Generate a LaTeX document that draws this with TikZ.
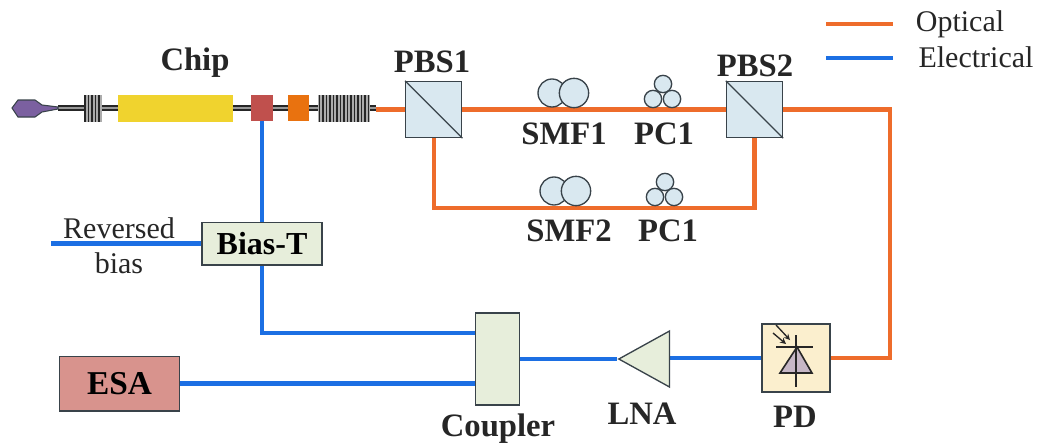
\documentclass[tikz,border=0pt]{standalone}
\usepackage{fontspec}
\setmainfont{Liberation Serif}
\usetikzlibrary{positioning,shapes.geometric,backgrounds}
\definecolor{optline}{HTML}{EE6C2B}
\definecolor{elecline}{HTML}{1C6FE3}
\definecolor{edgegray}{HTML}{39434A}
\definecolor{pbsfill}{HTML}{D9E8F0}
\definecolor{greenfill}{HTML}{E7EEDB}
\definecolor{esafill}{HTML}{D8938D}
\definecolor{pdfill}{HTML}{FBEFCE}
\definecolor{gainfill}{HTML}{F0D32E}
\definecolor{modfill}{HTML}{C0504D}
\definecolor{psfill}{HTML}{E9720F}
\definecolor{tipfill}{HTML}{7B60A0}
\tikzset{
  boxlabel/.style={font=\fontsize{24.5}{26}\selectfont\bfseries,inner sep=0pt,text=black!85},
  thinlabel/.style={font=\fontsize{22.5}{24}\selectfont,inner sep=0pt,text=black!85},
  device/.style={draw=edgegray,line width=1pt,rectangle,inner sep=0pt},
  pbsbox/.style={device,fill=pbsfill,minimum width=42pt,minimum height=42pt},
  coil/.style={circle,draw=edgegray,line width=1pt,fill=pbsfill,inner sep=0pt},
  chipbox/.style={rectangle,inner sep=0pt,minimum height=20pt},
  grating/.style={chipbox,fill=gray!65},
  optical/.style={draw=optline,line width=3.2pt},
  electrical/.style={draw=elecline,line width=3.2pt}
}
\begin{document}
\begin{tikzpicture}[x=0.75pt,y=-0.75pt]
\useasboundingbox (0,0) rectangle (1039,443);
\coordinate (TIP) at (58,108);
\coordinate (WGend) at (376,108);
\coordinate (OPTin) at (376,109.5);
\node[grating,minimum width=13.5pt] (GRa) at (93,108.5) {};
\node[chipbox,fill=gainfill,minimum width=86pt] (GAIN) at (175.5,108.5) {};
\node[chipbox,fill=modfill,minimum width=16pt,minimum height=19.5pt] (MOD) at (262,108) {};
\node[chipbox,fill=psfill,minimum width=16pt,minimum height=19.5pt] (PS) at (298.5,108) {};
\node[grating,minimum width=39pt] (GRb) at (344,108.5) {};
\foreach \x in {85,88.5,...,101}
  \draw[black!85,line width=1pt] (\x,95) -- (\x,122);
\foreach \x in {319.5,323,...,370}
  \draw[black!85,line width=1pt] (\x,95) -- (\x,122);
\draw[draw=edgegray,line width=.8pt,fill=tipfill]
  (12,108) -- (18,100) -- (35,100) -- (42,105) -- (58,107) -- (58,109) -- (42,112) -- (35,117) -- (18,117) -- cycle;
\node[boxlabel] (chiplabel) at (195,63) {Chip};

\node[pbsbox] (PBSa) at (433.7,109.5) {};
\node[pbsbox] (PBSb) at (754.5,109.5) {};
\draw[edgegray,line width=1pt] (PBSa.north west) -- (PBSa.south east);
\draw[edgegray,line width=1pt] (PBSb.north west) -- (PBSb.south east);
\node[boxlabel] (PBSalabel) at (432,62) {PBS1};
\node[boxlabel] (PBSblabel) at (755,66) {PBS2};

\node[coil,minimum size=21pt] (SMFaa) at (552,93) {};
\node[coil,minimum size=22pt] (SMFab) at (574,93) {};
\node[coil,minimum size=21pt] (SMFba) at (554,191) {};
\node[coil,minimum size=22pt] (SMFbb) at (576,191) {};
\foreach \n/\x/\y in {PCaa/663/84,PCab/653/99,PCac/672/99,PCba/665/182,PCbb/655/197,PCbc/674/197}
  \node[coil,minimum size=13pt] (\n) at (\x,\y) {};
\node[boxlabel] (SMFalabel) at (564,134) {SMF1};
\node[boxlabel] (PCalabel) at (664,134) {PC1};
\node[boxlabel] (SMFblabel) at (569,231) {SMF2};
\node[boxlabel] (PCblabel) at (668,231) {PC1};

\node[device,fill=greenfill,minimum width=90pt,minimum height=32pt,font=\fontsize{24}{26}\selectfont\bfseries] (biasT) at (262,243.5) {Bias-T};
\node[thinlabel] (revlabel) at (119,228) {Reversed};
\node[thinlabel] (biaslabel) at (119,263) {bias};
\coordinate (biasin) at (51,243.5);

\node[device,fill=greenfill,minimum width=33pt,minimum height=69pt] (COUP) at (497.5,359) {};
\node[boxlabel] (couplabel) at (498,429) {Coupler};
\coordinate (coupin) at (475,333);
\node[device,fill=esafill,minimum width=90pt,minimum height=41pt,font=\fontsize{25}{27}\selectfont\bfseries] (ESA) at (119.5,383.5) {ESA};
\node[device,fill=greenfill,isosceles triangle,isosceles triangle stretches,shape border rotate=180,minimum width=42pt,minimum height=38pt] (LNA) at (653,359) {};
\node[boxlabel] (LNAlabel) at (642,414) {LNA};
\node[device,fill=pdfill,minimum width=51pt,minimum height=51pt] (PD) at (796,358) {};
\node[boxlabel] (PDlabel) at (795,417) {PD};
\draw[fill=violet!25!gray!45,draw=black!85,line width=1.2pt] (797,347) -- (780,373) -- (812,373) -- cycle;
\draw[black!85,line width=1.2pt] (776,347) -- (813,347) (796,335) -- (796,387);
\draw[->,>=stealth,black!85,line width=1pt] (776,325) -- (790,340);
\draw[->,>=stealth,black!85,line width=1pt] (773,333) -- (786,344);

\coordinate (loopmid) at (600,208);
\coordinate (rightup) at (890,109.5);
\coordinate (legAa) at (826,24);
\coordinate (legAb) at (893,24);
\coordinate (legBa) at (826,58);
\coordinate (legBb) at (893,58);
\node[thinlabel] (optlabel) at (960,24) {Optical};
\node[thinlabel] (eleclabel) at (976,57) {Electrical};

\begin{pgfonlayer}{background}
\draw[draw=black!85,double=gray!80,line width=1pt,double distance=2pt] (TIP) -- (WGend);
\path[optical]
(OPTin) edge (PBSa.west)
(PBSa.east) edge (PBSb.west)
(PD.east) edge[to path={-| (rightup) -- (\tikztotarget)}] (PBSb.east)
(PBSa.south) edge[to path={|- (loopmid) -| (\tikztotarget)}] (PBSb.south)
(legAa) edge (legAb);
\path[electrical]
(biasT.north) edge (MOD)
(biasT.south) edge[to path={|- (\tikztotarget)}] (coupin)
(biasin) edge (biasT.west)
(ESA.east) edge (ESA.east -| COUP.west)
(COUP.east) edge (COUP.east -| LNA.west)
(PD.west) edge (PD.west -| LNA)
(legBa) edge (legBb);
\end{pgfonlayer}
\end{tikzpicture}
\end{document}
